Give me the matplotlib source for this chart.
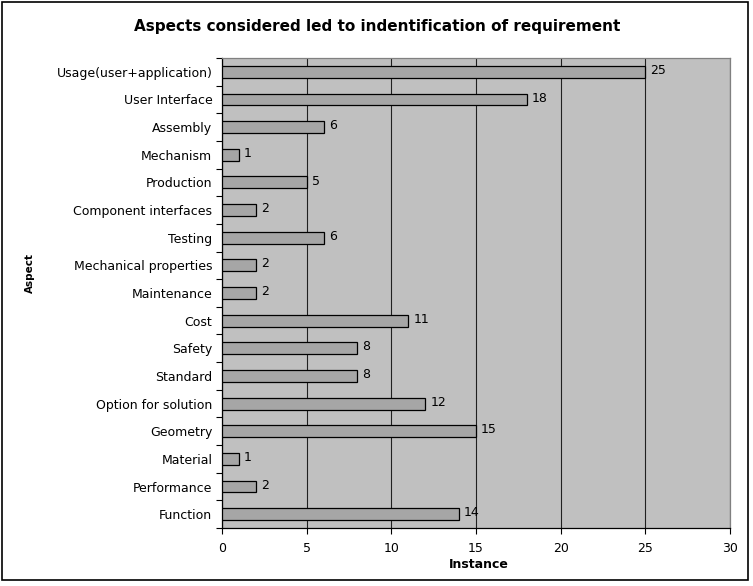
import numpy as np
import matplotlib.pyplot as plt
from matplotlib.patches import Rectangle

plt.rcParams['font.family'] = ['DejaVu Sans']

# datos (de arriba hacia abajo como en la figura)
aspects = ["Usage(user+application)", "User Interface", "Assembly", "Mechanism",
           "Production", "Component interfaces", "Testing", "Mechanical properties",
           "Maintenance", "Cost", "Safety", "Standard", "Option for solution",
           "Geometry", "Material", "Performance", "Function"]
instances = [25, 18, 6, 1, 5, 2, 6, 2, 2, 11, 8, 8, 12, 15, 1, 2, 14]
xticks = [0, 5, 10, 15, 20, 25, 30]

fig = plt.figure(figsize=(7.53, 5.86), dpi=100)
ax = fig.add_axes([222/753, 1-528/586, (730-222)/753, (528-58)/586])

n = len(aspects)
pos = np.arange(n)[::-1]  # el primero arriba
ax.barh(pos, instances, height=0.43, color="#a6a6a6", edgecolor="black", linewidth=0.9, zorder=3)

for p, v in zip(pos, instances):
    ax.text(v + 0.3, p + 0.05, str(v), va="center", ha="left", fontsize=9, zorder=4)

ax.set_facecolor("#c0c0c0")
ax.set_xlim(0, 30)
ax.set_ylim(-0.5, n - 0.5)
ax.set_xticks(xticks)
ax.set_yticks(pos)
ax.set_yticklabels(aspects, fontsize=9)
ax.set_yticks(np.arange(n + 1) - 0.5, minor=True)
ax.tick_params(axis="y", which="major", length=0, pad=7)
ax.tick_params(axis="y", which="minor", length=4, direction="out", width=0.8)
ax.tick_params(axis="x", length=4, direction="out", labelsize=9, pad=6, width=0.8)
ax.xaxis.grid(True, color="#202020", linewidth=0.8, zorder=1)
ax.set_axisbelow(True)

for s in ["left", "bottom"]:
    ax.spines[s].set_color("black")
    ax.spines[s].set_linewidth(0.9)
for s in ["top", "right"]:
    ax.spines[s].set_color("#808080")
    ax.spines[s].set_linewidth(0.9)

fig.text(479/753, 1-565/586, "Instance", fontsize=9, fontweight="bold", ha="center", va="center")
fig.text(30/753, 1-273/586, "Aspect", rotation=90, fontsize=7.5, fontweight="bold",
         ha="center", va="center")
fig.text(377/753, 1-26/586, "Aspects considered led to indentification of requirement",
         fontsize=11, fontweight="bold", ha="center", va="center")

# borde de la figura
fig.patches.append(Rectangle((2/753, 1-580/586), 746/753, 578/586, transform=fig.transFigure,
                             fill=False, edgecolor="black", linewidth=1.2))

fig.savefig("out.png", dpi=100)
